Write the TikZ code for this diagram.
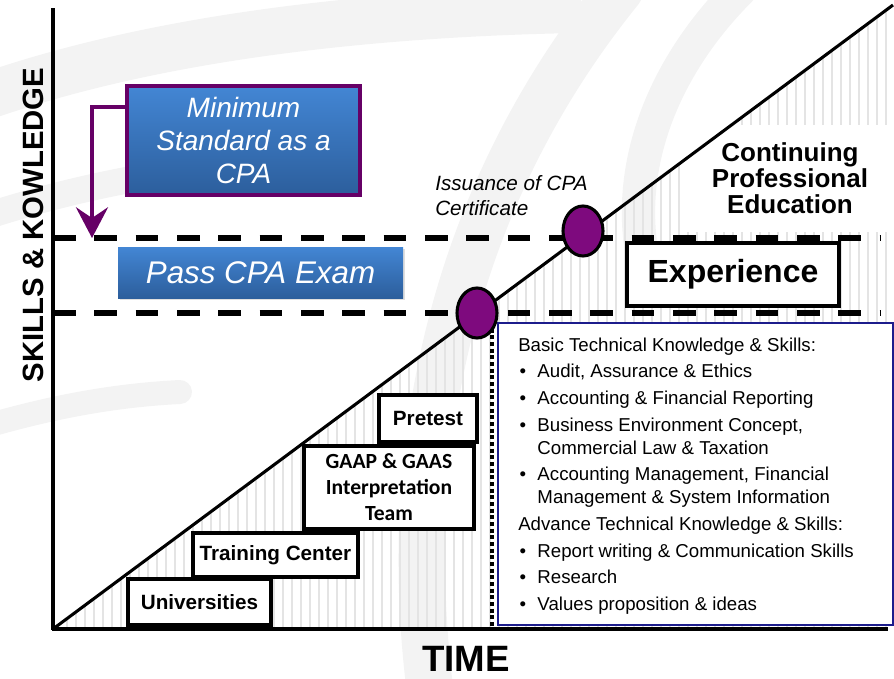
\documentclass[tikz,border=0pt]{standalone}
\usepackage{fontspec}
\setmainfont{Liberation Sans}
\newfontfamily\calibri{Carlito}
\usetikzlibrary{positioning, arrows.meta, shapes.geometric, shadows}
\definecolor{cpapurple}{HTML}{660066}
\definecolor{dotpurple}{HTML}{7E0A7E}
\definecolor{boxtop}{HTML}{4386D4}
\definecolor{boxbottom}{HTML}{2C5E9C}
\definecolor{listblue}{HTML}{1C1C8C}
\definecolor{watermark}{HTML}{F3F3F3}
\definecolor{hatchgray}{HTML}{E4E4E4}

\tikzset{
  stepbox/.style={draw=black, fill=white, line width=2.3pt, inner sep=0pt, align=center,
    font=\bfseries\fontsize{15.5}{19}\selectfont},
  bluebox/.style={top color=boxtop, bottom color=boxbottom, text=white, inner sep=0pt,
    align=center, drop shadow={opacity=0.25, shadow xshift=1.5pt, shadow yshift=-1.5pt}},
  levelline/.style={line width=3.8pt, dash pattern=on 17pt off 14pt},
  milestone/.style={ellipse, draw=black, fill=dotpurple, line width=2.3pt,
    minimum width=30pt, minimum height=37.5pt, inner sep=0pt},
  axisline/.style={line width=2.6pt},
  wm/.style={watermark, line cap=round},
}

\begin{document}
\begin{tikzpicture}[x=0.75pt, y=-0.75pt]
  \useasboundingbox (0,0) rectangle (894,679);

  % faint logo in the back
  \draw[wm, line width=35pt] (-10,95) .. controls (150,40) and (350,15) .. (560,10);
  \draw[wm, line width=20pt] (-10,215) .. controls (100,180) and (200,165) .. (300,160);
  \draw[wm, line width=18pt] (-10,425) .. controls (60,405) and (120,395) .. (180,392);
  \draw[wm, line width=35pt] (430,690) .. controls (400,450) and (450,200) .. (620,-10);
  \draw[wm, line width=25pt] (640,240) .. controls (630,150) and (670,60) .. (740,-10);

  \coordinate (origin) at (53,629);
  \coordinate (ytop) at (53,8);
  \coordinate (xend) at (888,629);
  \coordinate (topend) at (893,5);

  % hatching under the line
  \begin{scope}
    \clip (origin) -- (topend) -- (893,629) -- cycle;
    \foreach \x in {58,67,...,893}
      \draw[hatchgray, line width=1.3pt] (\x,0) -- (\x,629);
  \end{scope}

  \node[fill=white, minimum width=154.5pt, minimum height=80pt, inner sep=0pt, align=center,
    font=\bfseries\fontsize{19.5}{19.5}\selectfont] (cpe) at (790,178.5)
    {Continuing\\Professional\\Education};

  % axes
  \draw[axisline] (ytop) -- ([yshift=-1pt]origin);
  \draw[axisline] ([xshift=-1pt]origin) -- (xend);
  \node[rotate=90, font=\bfseries\fontsize{22}{26}\selectfont] (ylab) at (33,225) {SKILLS \& KOWLEDGE};
  \node[font=\bfseries\fontsize{27.5}{30}\selectfont, inner sep=0pt] (xlab) at (466,659) {TIME};

  % levels
  \coordinate (lvlA) at (53,238);
  \coordinate (lvlAend) at (880,238);
  \coordinate (lvlB) at (53,313);
  \coordinate (lvlBend) at (880,313);
  \draw[levelline] (lvlA) -- (lvlAend);
  \draw[levelline] (lvlB) -- (lvlBend);

  \draw[line width=2.3pt] (origin) -- (topend);

  % stairs
  \node[stepbox, minimum width=107.25pt, minimum height=34.5pt] (univ) at (199.5,602) {Universities};
  \node[stepbox, minimum width=123.75pt, minimum height=33pt] (train) at (275.5,555) {Training Center};
  \node[stepbox, minimum width=127.5pt, minimum height=62.25pt,
    font=\calibri\bfseries\fontsize{16.2}{19.5}\selectfont] (gaap) at (389,487.5)
    {GAAP \& GAAS\\Interpretation\\Team};
  \node[stepbox, minimum width=73.5pt, minimum height=35.25pt] (pretest) at (428,418.5) {Pretest};

  % blue boxes
  \node[bluebox, draw=cpapurple, line width=3pt, minimum width=174.75pt, minimum height=81.75pt,
    font=\itshape\fontsize{21}{24.75}\selectfont] (mcpa) at (243.5,140.5)
    {Minimum\\Standard as a\\CPA};
  \node[bluebox, minimum width=213.75pt, minimum height=38.25pt,
    font=\itshape\fontsize{23.5}{28}\selectfont] (pass) at (260.5,272.5) {Pass CPA Exam};

  \coordinate (ptip) at (92,238);
  \draw[cpapurple, line width=3pt, -{Stealth[length=23pt, width=24pt, inset=8pt]}]
    ([yshift=25pt]mcpa.west) -| (ptip);

  \node[anchor=west, align=left, inner sep=0pt, font=\itshape\fontsize{15.5}{18.75}\selectfont] (issue)
    at (435,195.5) {Issuance of CPA\\Certificate};

  \node[draw=black, fill=white, line width=2.3pt, minimum width=159pt, minimum height=47.25pt,
    inner sep=0pt, font=\bfseries\fontsize{24}{26}\selectfont] (exper) at (733,274.5) {Experience};

  % skills box
  \node[draw=listblue, fill=white, line width=1.2pt, minimum width=296.25pt,
    minimum height=226.5pt, inner sep=0pt] (skillbox) at (695.5,474) {};
  \node[anchor=north west, inner sep=0pt, font=\fontsize{14}{17.25}\selectfont] (skills) at (518,334.7)
    {\begin{tabular}{@{\hspace{1pt}}l@{\hspace{8.5pt}}l@{}}
      \multicolumn{2}{@{}l@{}}{Basic Technical Knowledge \& Skills:}\\[2.75pt]
      \textbullet & Audit, Assurance \& Ethics\\[2.75pt]
      \textbullet & Accounting \& Financial Reporting\\[2.75pt]
      \textbullet & Business Environment Concept,\\
                  & Commercial Law \& Taxation\\[2.75pt]
      \textbullet & Accounting Management, Financial\\
                  & Management \& System Information\\[2.75pt]
      \multicolumn{2}{@{}l@{}}{Advance Technical Knowledge \& Skills:}\\[2.75pt]
      \textbullet & Report writing \& Communication Skills\\[2.75pt]
      \textbullet & Research\\[2.75pt]
      \textbullet & Values proposition \& ideas
    \end{tabular}};

  \coordinate (dtop) at (492,322);
  \coordinate (dbot) at (492,628);
  \draw[line width=3pt, dash pattern=on 3pt off 2pt] (dtop) -- (dbot);

  % milestones
  \node[milestone] (pass dot) at (477,313) {};
  \node[milestone] (cert dot) at (583,231) {};
\end{tikzpicture}
\end{document}
